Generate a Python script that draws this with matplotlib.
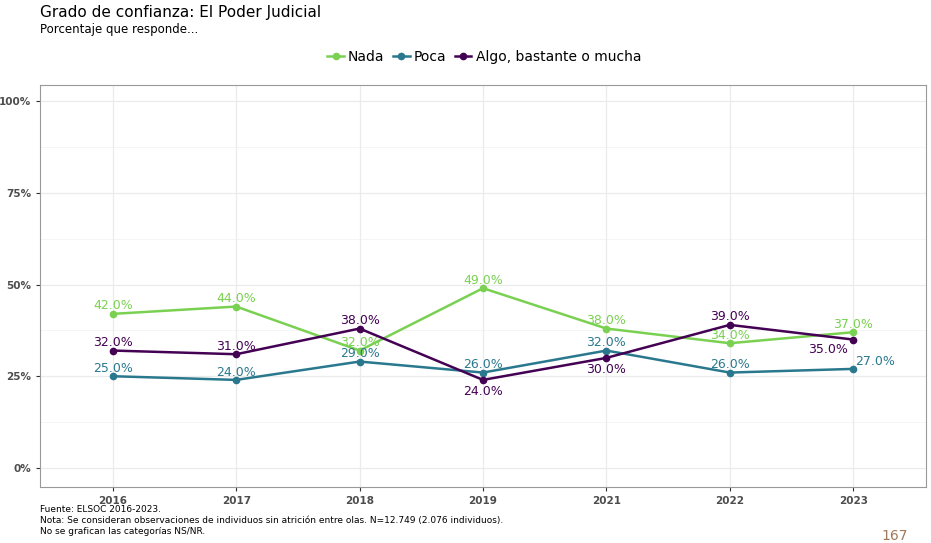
import matplotlib
matplotlib.use("Agg")
import matplotlib.pyplot as plt
from matplotlib.lines import Line2D

years = ["2016", "2017", "2018", "2019", "2021", "2022", "2023"]
nada = [42, 44, 32, 49, 38, 34, 37]
poca = [25, 24, 29, 26, 32, 26, 27]
algo = [32, 31, 38, 24, 30, 39, 35]
series_names = ["Nada", "Poca", "Algo, bastante o mucha"]
colors = ["#7AD151", "#2A788E", "#440154"]

fig = plt.figure(figsize=(9.31, 5.43), dpi=100)
ax = fig.add_axes([40/931, 1-487/543, 886/931, 402/543])
x = list(range(len(years)))
for i in range(0, 101, 25):
    ax.axhline(i, color="#EBEBEB", lw=0.9, zorder=0)
for i in range(0, 100, 25):
    ax.axhline(i + 12.5, color="#F2F2F2", lw=0.5, zorder=0)
for xi in x:
    ax.axvline(xi, color="#EBEBEB", lw=0.9, zorder=0)

offs = {
    0: [(0, 1)] * 7,
    1: [(0, 1)] * 6 + [(16, 1)],
    2: [(0, 1), (0, 1), (0, 1), (0, -13), (0, -13), (0, 1), (-18, -12)],
}
for k, (vals, c) in enumerate(zip([nada, poca, algo], colors)):
    ax.plot(x, vals, color=c, lw=1.8, marker="o", ms=4.5, zorder=3)
    for j, v in enumerate(vals):
        dx, dy = offs[k][j]
        ax.annotate(f"{v:.1f}%", (x[j], v), xytext=(dx, dy), textcoords="offset points",
                    ha="center", va="bottom", color=c, fontsize=9, zorder=4)

ax.set_xlim(-0.59, 6.59)
ax.set_ylim(-5.2, 104.4)
ax.set_xticks(x)
ax.set_xticklabels(years, fontsize=7.5, fontweight="bold", color="#4D4D4D")
ax.set_yticks([0, 25, 50, 75, 100])
ax.set_yticklabels(["0%", "25%", "50%", "75%", "100%"], fontsize=7.5, fontweight="bold", color="#4D4D4D")
ax.tick_params(length=3, color="#333333")
for s in ax.spines.values():
    s.set_color("#999999"); s.set_linewidth(0.8)

handles = [Line2D([0], [0], color=c, lw=1.8, marker="o", ms=4.5) for c in colors]
fig.legend(handles, series_names, loc="center", bbox_to_anchor=(0.52, 1-57/543), ncol=3,
           frameon=False, fontsize=10, handlelength=1.2, columnspacing=0.6, handletextpad=0.3)

fig.text(40/931, 1-12/543, "Grado de confianza: El Poder Judicial", fontsize=11, va="center")
fig.text(40/931, 1-30/543, "Porcentaje que responde...", fontsize=8.5, va="center")
fig.text(40/931, 1-510/543, "Fuente: ELSOC 2016-2023.", fontsize=6.5, va="center")
fig.text(40/931, 1-521/543, "Nota: Se consideran observaciones de individuos sin atrición entre olas. N=12.749 (2.076 individuos).", fontsize=6.5, va="center")
fig.text(40/931, 1-532/543, "No se grafican las categorías NS/NR.", fontsize=6.5, va="center")
fig.text(895/931, 1-536/543, "167", fontsize=10, color="#A0785A", ha="center", va="center")

fig.savefig("out.png", dpi=100)
